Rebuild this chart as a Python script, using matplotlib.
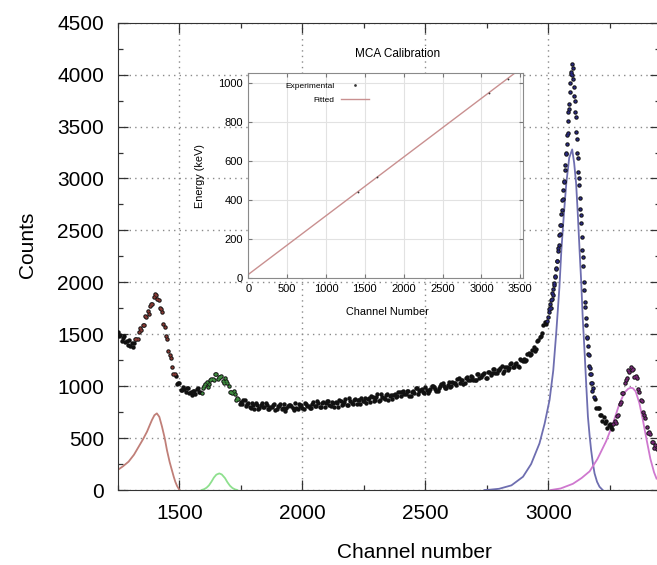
import matplotlib
matplotlib.use("Agg")
import matplotlib.pyplot as plt
import numpy as np

plt.rcParams["font.family"] = ["Liberation Sans", "DejaVu Sans"]

ch_a = np.arange(1250, 1500, 5)
counts_a = [1525, 1481, 1497, 1435, 1463, 1479, 1424, 1436, 1392, 1441,
            1389, 1419, 1377, 1420, 1453, 1452, 1450, 1519, 1557, 1537,
            1589, 1585, 1672, 1663, 1720, 1696, 1772, 1787, 1789, 1860,
            1885, 1874, 1836, 1833, 1748, 1746, 1715, 1598, 1566, 1480,
            1458, 1338, 1301, 1269, 1181, 1114, 1116, 1101, 1021, 1029]

ch_b = np.arange(1500, 3000, 10)
counts_b = [1028, 965, 970, 987, 938, 915, 953, 970, 947, 937,
            999, 1045, 1022, 1067, 1063, 1122, 1087, 1097, 1026, 1050,
            998, 940, 949, 864, 874, 846, 869, 811, 841, 787,
            821, 836, 781, 821, 799, 839, 783, 801, 821, 770,
            811, 826, 786, 765, 805, 823, 793, 834, 781, 813,
            791, 838, 813, 787, 831, 812, 853, 802, 835, 795,
            854, 821, 849, 798, 837, 865, 822, 848, 820, 882,
            838, 871, 827, 863, 885, 862, 838, 886, 902, 860,
            891, 861, 922, 887, 918, 868, 918, 912, 893, 948,
            909, 952, 926, 952, 906, 953, 981, 928, 960, 943,
            990, 939, 971, 999, 971, 954, 1006, 1029, 983, 1012,
            989, 1043, 1029, 1067, 1030, 1058, 1027, 1087, 1062, 1091,
            1056, 1117, 1081, 1105, 1126, 1079, 1135, 1123, 1164, 1126,
            1155, 1194, 1143, 1188, 1176, 1219, 1180, 1220, 1187, 1255,
            1257, 1254, 1321, 1306, 1374, 1362, 1449, 1487, 1586, 1600]

ch_b2 = np.arange(1505, 3000, 10)
counts_b2 = [967, 994, 941, 983, 944, 954, 920, 979, 943, 978,
             1018, 991, 1064, 1067, 1117, 1073, 1092, 1054, 1080, 1026,
             947, 933, 927, 886, 828, 832, 866, 833, 797, 836,
             782, 821, 789, 840, 800, 819, 777, 803, 830, 783,
             807, 776, 830, 791, 823, 806, 768, 790, 832, 818,
             778, 830, 811, 794, 851, 812, 834, 795, 850, 834,
             860, 810, 834, 846, 801, 857, 832, 874, 819, 857,
             832, 881, 870, 830, 861, 889, 875, 846, 895, 869,
             920, 865, 900, 880, 929, 907, 873, 929, 907, 945,
             941, 922, 957, 907, 948, 930, 978, 951, 977, 934,
             968, 949, 1005, 994, 951, 979, 1017, 1000, 978, 1040,
             1003, 1032, 1012, 1075, 1058, 1021, 1077, 1061, 1097, 1064,
             1063, 1120, 1092, 1115, 1080, 1140, 1112, 1161, 1124, 1153,
             1175, 1129, 1182, 1160, 1215, 1188, 1217, 1191, 1263, 1247,
             1243, 1309, 1300, 1349, 1337, 1434, 1469, 1511, 1619, 1631]

ch_c = np.arange(3000, 3180, 2)
counts_c = [1666, 1739, 1717, 1755, 1790, 1757, 1831, 1839, 1900, 1882,
            1933, 1998, 1975, 2048, 2064, 2137, 2132, 2206, 2205, 2303,
            2335, 2364, 2459, 2468, 2554, 2552, 2654, 2697, 2791, 2800,
            2886, 2968, 2979, 3085, 3129, 3234, 3247, 3334, 3423, 3441,
            3551, 3638, 3670, 3720, 3832, 3921, 4030, 4010, 4100, 3999,
            4060, 3960, 3885, 3791, 3749, 3644, 3591, 3446, 3382, 3244,
            3198, 3063, 3001, 2940, 2812, 2710, 2652, 2570, 2441, 2310,
            2244, 2161, 2004, 1926, 1810, 1767, 1652, 1592, 1474, 1464,
            1383, 1309, 1297, 1190, 1177, 1116, 1115, 1029, 1032, 955]

ch_d = np.arange(3180, 3445, 5)
counts_d = [985, 896, 877, 787, 793, 791, 719, 720, 667, 708,
            644, 661, 602, 627, 638, 609, 585, 639, 667, 647,
            709, 720, 832, 848, 930, 931, 1032, 1064, 1079, 1158,
            1137, 1184, 1156, 1163, 1088, 1096, 1075, 970, 946, 870,
            858, 748, 721, 692, 611, 547, 556, 541, 461, 459,
            404, 433, 394]

# fitted peak components
red_ch = [1250, 1270, 1293, 1315, 1334, 1352, 1368, 1380, 1388, 1398, 1408,
          1418, 1429, 1440, 1449, 1460, 1469, 1477, 1483, 1490, 1496, 1500]
red_ct = [195, 228, 273, 340, 417, 490, 562, 630, 674, 720, 738,
          705, 610, 500, 385, 270, 193, 125, 80, 40, 16, 0]

green_ch = [1590, 1600, 1610, 1620, 1630, 1640, 1650, 1662, 1672, 1685,
            1695, 1705, 1715, 1725, 1735]
green_ct = [0, 8, 22, 45, 80, 120, 148, 160, 150, 115, 75, 42, 20, 7, 0]

blue_ch = [2740, 2762, 2800, 2850, 2897, 2930, 2964, 2985, 3005, 3020, 3032,
           3045, 3053, 3063, 3073, 3085, 3097, 3105, 3113, 3120, 3127, 3134,
           3140, 3147, 3154, 3161, 3168, 3174, 3181, 3188, 3198, 3208, 3221]
blue_ct = [0, 3, 12, 45, 128, 250, 449, 640, 867, 1150, 1509,
           1950, 2311, 2650, 2953, 3200, 3280, 3150, 2953, 2650, 2311, 1990,
           1650, 1348, 1020, 706, 520, 385, 260, 160, 80, 32, 0]

mag_ch = [3010, 3050, 3100, 3135, 3168, 3200, 3235, 3260, 3289, 3310, 3325,
          3335, 3344, 3355, 3370, 3384, 3400, 3415, 3430, 3440]
mag_ct = [0, 15, 60, 115, 180, 300, 470, 620, 830, 940, 975,
          985, 980, 950, 840, 680, 480, 300, 170, 110]

# calibration inset
exp_ch = [1408, 1662, 3095, 3338]
exp_e = [442, 519, 948, 1021]
fit_ch = [0, 3500]
fit_e = [20, 1070]

channels = np.concatenate([ch_a, ch_b, ch_b2, ch_c, ch_d])
counts = np.concatenate([counts_a, counts_b, counts_b2, counts_c, counts_d])

fig = plt.figure(figsize=(6.57, 5.65), dpi=100)
ax = fig.add_axes([0.1796, 0.1327, 0.8253, 0.8271])

ax.plot(channels, counts, "o", ms=3.2, mew=0, color="#111111", zorder=3)
for lo, hi, c in [(1320, 1480, "#8a3a34"), (1590, 1740, "#3f8f3f"),
                  (2995, 3185, "#2a2a80"), (3265, 3445, "#7a2a7a")]:
    m = (channels >= lo) & (channels <= hi)
    ax.plot(channels[m], counts[m], "o", ms=1.8, mew=0, color=c, zorder=4)

ax.plot(red_ch, red_ct, color="#c07f78", lw=1.3, zorder=2)
ax.plot(green_ch, green_ct, color="#8ee08e", lw=1.3, zorder=2)
ax.plot(blue_ch, blue_ct, color="#6e6eb0", lw=1.3, zorder=2)
ax.plot(mag_ch, mag_ct, color="#cf78cf", lw=1.3, zorder=2)

ax.set_xlim(1251, 3455)
ax.set_ylim(0, 4500)
ax.set_xticks([1500, 2000, 2500, 3000])
ax.set_xticks(np.arange(1250, 3450, 250), minor=True)
ax.set_yticks(np.arange(0, 4501, 500))
ax.set_yticks(np.arange(0, 4501, 250), minor=True)
ax.tick_params(which="both", direction="in", top=True, right=True,
               color="#333333", width=0.9)
ax.tick_params(which="major", length=7, labelsize=15, pad=10)
ax.tick_params(which="minor", length=3.5)
ax.grid(True, which="major", linestyle=(0, (1, 3)), color="#8a8a8a", lw=1)
for s in ax.spines.values():
    s.set_color("#333333")

fig.text(27 / 657, 1 - 245 / 565, "Counts", rotation=90, fontsize=15,
         ha="center", va="center")
fig.text(414 / 657, 1 - 553 / 565, "Channel number", fontsize=15,
         ha="center", va="center")

# inset
ins = fig.add_axes([0.378, 0.5074, 0.4186, 0.3639])
ins.set_facecolor("white")
ins.plot(exp_ch, exp_e, "o", ms=1.3, mew=0, color="#333333",
         label="Experimental", zorder=3)
ins.plot(fit_ch, fit_e, color="#c99090", lw=1.0, label="Fitted", zorder=2)
ins.set_xlim(0, 3540)
ins.set_ylim(0, 1051)
ins.set_xticks(np.arange(0, 3501, 500))
ins.set_yticks(np.arange(0, 1001, 200))
ins.grid(True, color="#e2e2e2", lw=0.8)
ins.tick_params(direction="in", top=True, right=True, length=3,
                labelsize=8, color="#777777", pad=4)
for s in ins.spines.values():
    s.set_color("#8a8a8a")
ins.legend(loc="upper left", bbox_to_anchor=(0.118, 0.975), frameon=False,
           markerfirst=False, fontsize=6, handlelength=3.4,
           handletextpad=0.8, labelspacing=0.7, borderpad=0,
           markerscale=1.5)
fig.text(398 / 657, 1 - 54 / 565, "MCA Calibration", fontsize=8.5,
         ha="center", va="center")
fig.text(387 / 657, 1 - 312 / 565, "Channel Number", fontsize=7.8,
         ha="center", va="center")
fig.text(200 / 657, 1 - 176 / 565, "Energy (keV)", fontsize=7.8,
         rotation=90, ha="center", va="center")

fig.savefig("out.png", dpi=100)
